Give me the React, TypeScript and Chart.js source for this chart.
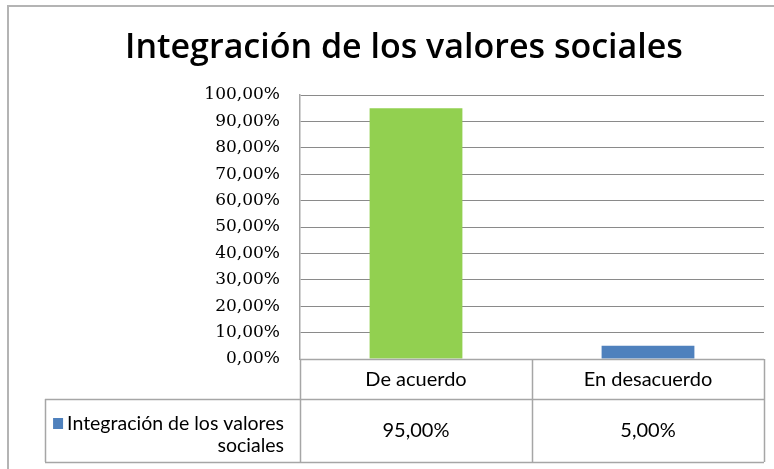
import React, { useEffect, useRef } from "react";
import { Chart, registerables } from "chart.js";

Chart.register(...registerables);

const chartTitle = "Integración de los valores sociales";
const categories = ["De acuerdo", "En desacuerdo"];
const seriesName = "Integración de los valores sociales";
const values = [0.95, 0.05];
const barColors = ["#92D050", "#4F81BD"];
const seriesColor = "#4F81BD";
const legendLines = ["Integración de los valores", "sociales"];
const yMin = 0;
const yMax = 1;
const yStep = 0.1;

const fmtPct = (v: number) => (v * 100).toFixed(2).replace(".", ",") + "%";

const TABLE_FONT = "20px Lato";
const LEGEND_FONT = "19.5px Lato";
const LINE_COLOR = "#a6a6a6";

const tablePlugin = {
  id: "excelExtras",
  afterDraw(chart: any) {
    const ctx = chart.ctx as CanvasRenderingContext2D;
    const area = chart.chartArea;
    const xs = chart.scales.x;
    const n = categories.length;
    const catW = (area.right - area.left) / n;
    const headerBottom = area.bottom + 40;
    const tableBottom = area.bottom + 103;
    const legendLeft = 45;

    ctx.save();
    // outer frame
    ctx.strokeStyle = "#b4b4b4";
    ctx.lineWidth = 2;
    ctx.beginPath();
    ctx.moveTo(8, chart.height + 5);
    ctx.lineTo(8, 6);
    ctx.lineTo(chart.width + 5, 6);
    ctx.stroke();

    // title
    ctx.fillStyle = "#000";
    ctx.font = "600 34px 'Open Sans'";
    ctx.textAlign = "center";
    ctx.textBaseline = "alphabetic";
    ctx.fillText(chartTitle, 404, 58);

    // table lines
    ctx.strokeStyle = LINE_COLOR;
    ctx.lineWidth = 1.5;
    ctx.beginPath();
    for (let i = 0; i <= n; i++) {
      const x = Math.round(area.left + i * catW) + 0.5;
      ctx.moveTo(x, area.bottom);
      ctx.lineTo(x, tableBottom);
    }
    ctx.moveTo(legendLeft + 0.5, headerBottom);
    ctx.lineTo(legendLeft + 0.5, tableBottom);
    ctx.moveTo(area.left, area.bottom + 0.5);
    ctx.lineTo(area.right, area.bottom + 0.5);
    ctx.moveTo(legendLeft, headerBottom + 0.5);
    ctx.lineTo(area.right, headerBottom + 0.5);
    ctx.moveTo(legendLeft, tableBottom + 0.5);
    ctx.lineTo(area.right, tableBottom + 0.5);
    ctx.stroke();

    // header labels & values
    ctx.fillStyle = "#000";
    ctx.font = TABLE_FONT;
    ctx.textAlign = "center";
    ctx.textBaseline = "middle";
    categories.forEach((c, i) => {
      const cx = xs.getPixelForValue(i);
      ctx.fillText(c, cx, (area.bottom + headerBottom) / 2 + 1);
      ctx.fillText(fmtPct(values[i]), cx, (headerBottom + tableBottom) / 2);
    });

    // legend cell
    ctx.font = LEGEND_FONT;
    ctx.textAlign = "right";
    ctx.textBaseline = "alphabetic";
    const textRight = area.left - 16;
    ctx.fillText(legendLines[0], textRight, headerBottom + 31);
    ctx.fillText(legendLines[1], textRight, headerBottom + 53);
    const w0 = ctx.measureText(legendLines[0]).width;
    ctx.fillStyle = seriesColor;
    ctx.fillRect(textRight - w0 - 14, headerBottom + 19, 10, 11);
    ctx.restore();
  },
};

export default function App() {
  const ref = useRef<HTMLCanvasElement>(null);
  useEffect(() => {
    if (!ref.current) return;
    const chart = new Chart(ref.current, {
      type: "bar",
      data: {
        labels: categories,
        datasets: [
          {
            label: seriesName,
            data: values,
            backgroundColor: barColors,
            borderWidth: 0,
            categoryPercentage: 1,
            barPercentage: 0.4,
          },
        ],
      },
      options: {
        responsive: false,
        animation: false,
        events: [],
        layout: { padding: { left: 0, right: 10, top: 95, bottom: 110 } },
        plugins: {
          legend: { display: false },
          title: { display: false },
          tooltip: { enabled: false },
        },
        scales: {
          x: { display: false },
          y: {
            min: yMin,
            max: yMax,
            afterFit: (s: any) => {
              s.width = 300;
            },
            ticks: {
              stepSize: yStep,
              padding: 20,
              color: "#000",
              font: { family: "'DejaVu Serif'", size: 17 },
              callback: (v: any) => fmtPct(Number(v)),
            },
            grid: { color: "#8a8a8a", lineWidth: 1, drawTicks: false },
            border: { display: true, color: LINE_COLOR, width: 1.5 },
          },
        },
      },
      plugins: [tablePlugin],
    });
    return () => chart.destroy();
  }, []);
  return (
    <div style={{ position: "absolute", left: 0, top: 0, width: 774, height: 469, background: "#fff", overflow: "hidden" }}>
      <canvas ref={ref} width={774} height={469} />
    </div>
  );
}
